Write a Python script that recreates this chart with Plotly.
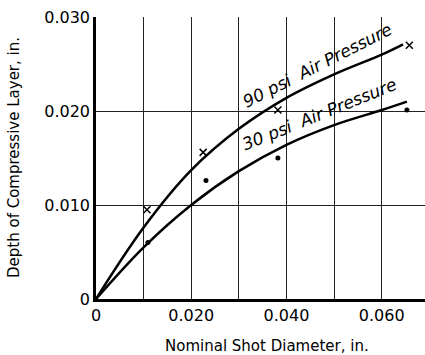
import plotly.graph_objects as go

# Curves
curve_x = [0, 0.010, 0.020, 0.030, 0.040, 0.050, 0.060, 0.0645]
curve_90 = [0, 0.0076, 0.0137, 0.0181, 0.0214, 0.0239, 0.0260, 0.0271]
curve_x30 = [0, 0.010, 0.020, 0.030, 0.040, 0.050, 0.060, 0.0653]
curve_30 = [0, 0.0055, 0.0100, 0.0136, 0.0164, 0.0185, 0.0201, 0.0210]

# Measured points
pts90_x = [0.0107, 0.0225, 0.0382, 0.0658]
pts90_y = [0.0095, 0.0156, 0.0201, 0.0270]
pts30_x = [0.0109, 0.0231, 0.0382, 0.0653]
pts30_y = [0.0060, 0.0126, 0.0150, 0.0201]

x_ticks = [0, 0.01, 0.02, 0.03, 0.04, 0.05, 0.06]
x_ticktext = ["0", "", "0.020", "", "0.040", "", "0.060"]
y_ticks = [0, 0.01, 0.02, 0.03]
y_ticktext = ["0", "0.010", "0.020", "0.030"]

labels = ["90 psi  Air Pressure", "30 psi  Air Pressure"]
x_title = "Nominal Shot Diameter, in."
y_title = "Depth of Compressive Layer, in."

FONT = "DejaVu Sans"
fig = go.Figure()
fig.add_trace(go.Scatter(x=curve_x, y=curve_90, mode="lines",
                         line=dict(color="black", width=2.5, shape="spline", smoothing=1), showlegend=False))
fig.add_trace(go.Scatter(x=curve_x30, y=curve_30, mode="lines",
                         line=dict(color="black", width=2.5, shape="spline", smoothing=1), showlegend=False))
fig.add_trace(go.Scatter(x=pts90_x, y=pts90_y, mode="markers",
                         marker=dict(symbol="x-thin-open", size=7, color="black", line=dict(color="black", width=1.5)),
                         showlegend=False))
fig.add_trace(go.Scatter(x=pts30_x, y=pts30_y, mode="markers",
                         marker=dict(symbol="circle", size=5, color="black"), showlegend=False))

fig.add_annotation(x=0.0466, y=0.0249, text=labels[0], showarrow=False, textangle=-27,
                   font=dict(family=FONT, size=17, color="black", style="italic"))
fig.add_annotation(x=0.0470, y=0.0197, text=labels[1], showarrow=False, textangle=-22,
                   font=dict(family=FONT, size=17, color="black", style="italic"))

fig.add_annotation(xref="paper", yref="paper", x=0.52, y=0, yshift=-47, text=x_title, showarrow=False,
                   xanchor="center", yanchor="middle", font=dict(family=FONT, size=15, color="black"))
fig.add_annotation(xref="paper", yref="paper", x=0, y=0.5, xshift=-82, text=y_title, showarrow=False,
                   textangle=-90, xanchor="center", yanchor="middle", font=dict(family=FONT, size=15, color="black"))

fig.update_xaxes(range=[0, 0.0691], tickvals=x_ticks, ticktext=x_ticktext,
                 showgrid=True, gridcolor="#222", gridwidth=1, zeroline=False,
                 showline=True, linecolor="black", linewidth=2.5, ticks="",
                 tickfont=dict(family=FONT, size=16, color="black"))
fig.update_yaxes(range=[0, 0.030], tickvals=y_ticks, ticktext=y_ticktext,
                 showgrid=True, gridcolor="#222", gridwidth=1, zeroline=False,
                 showline=True, linecolor="black", linewidth=2.5, ticks="",
                 tickfont=dict(family=FONT, size=16, color="black"))
fig.update_layout(width=425, height=355, margin=dict(l=96, r=0, t=17, b=56),
                  plot_bgcolor="white", paper_bgcolor="white")
fig.write_html("out.html")
